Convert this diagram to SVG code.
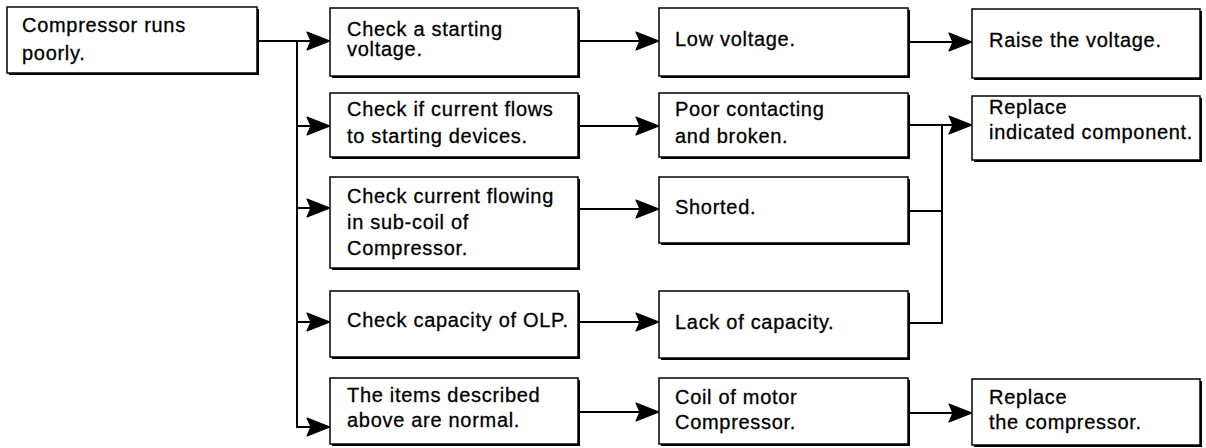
<svg xmlns="http://www.w3.org/2000/svg" width="1206" height="448" viewBox="0 0 1206 448">
<style>
.sh{fill:#000}
.bx{fill:#fff;stroke:#000;stroke-width:1.5}
text{font-family:"Liberation Sans",Arial,sans-serif;font-size:20px;letter-spacing:0.7px;fill:#000;stroke:#000;stroke-width:0.3}
.ln{fill:none;stroke:#000;stroke-width:2}
.ah{fill:#000;stroke:#000;stroke-width:1.2;stroke-linejoin:round}
</style>
<defs>
<path id="ah" class="ah" d="M0,0 L-23,-9 L-19,0 L-23,9 Z"/>
</defs>
<rect width="1206" height="448" fill="#fff"/>

<g id="connectors">
<path class="ln" d="M257,41 H318"/>
<path class="ln" d="M297,41 V427 H318"/>
<path class="ln" d="M297,126 H318 M297,208 H318 M297,322 H318"/>
<path class="ln" d="M578,41 H648 M578,126 H648 M578,209 H648 M578,322 H648 M578,412 H648"/>
<path class="ln" d="M908,42 H961 M908,125 H961 M908,413 H961"/>
<path class="ln" d="M942,125 V323 H908 M908,211 H942"/>
<path class="ah" d="M330,41 l-23,-9 l4,9 l-4,9 z"/>
<path class="ah" d="M330,126 l-23,-9 l4,9 l-4,9 z"/>
<path class="ah" d="M330,208 l-23,-9 l4,9 l-4,9 z"/>
<path class="ah" d="M330,322 l-23,-9 l4,9 l-4,9 z"/>
<path class="ah" d="M330,427 l-23,-9 l4,9 l-4,9 z"/>
<path class="ah" d="M659,41 l-23,-9 l4,9 l-4,9 z"/>
<path class="ah" d="M659,126 l-23,-9 l4,9 l-4,9 z"/>
<path class="ah" d="M659,209 l-23,-9 l4,9 l-4,9 z"/>
<path class="ah" d="M659,322 l-23,-9 l4,9 l-4,9 z"/>
<path class="ah" d="M659,412 l-23,-9 l4,9 l-4,9 z"/>
<path class="ah" d="M972,42 l-23,-9 l4,9 l-4,9 z"/>
<path class="ah" d="M972,125 l-23,-9 l4,9 l-4,9 z"/>
<path class="ah" d="M972,413 l-23,-9 l4,9 l-4,9 z"/>
</g>

<g id="n0">
<rect class="sh" x="9" y="9" width="250" height="66"/>
<rect class="bx" x="7" y="7" width="250" height="66"/>
<text x="22" y="32">Compressor runs</text>
<text x="22" y="60">poorly.</text>
</g>

<g id="n1">
<rect class="sh" x="332" y="10" width="248" height="68"/>
<rect class="bx" x="330" y="8" width="248" height="68"/>
<text x="347" y="36">Check a starting</text>
<text x="347" y="56">voltage.</text>
</g>
<g id="n2">
<rect class="sh" x="332" y="95" width="248" height="64"/>
<rect class="bx" x="330" y="93" width="248" height="64"/>
<text x="347" y="116">Check if current flows</text>
<text x="347" y="143">to starting devices.</text>
</g>
<g id="n3">
<rect class="sh" x="332" y="179" width="248" height="91"/>
<rect class="bx" x="330" y="177" width="248" height="91"/>
<text x="347" y="203">Check current flowing</text>
<text x="347" y="229">in sub-coil of</text>
<text x="347" y="255">Compressor.</text>
</g>
<g id="n4">
<rect class="sh" x="332" y="293" width="248" height="66"/>
<rect class="bx" x="330" y="291" width="248" height="66"/>
<text x="347" y="327">Check capacity of OLP.</text>
</g>
<g id="n5">
<rect class="sh" x="332" y="380" width="248" height="66"/>
<rect class="bx" x="330" y="378" width="248" height="66"/>
<text x="347" y="402">The items described</text>
<text x="347" y="427">above are normal.</text>
</g>

<g id="m1">
<rect class="sh" x="661" y="10" width="249" height="68"/>
<rect class="bx" x="659" y="8" width="249" height="68"/>
<text x="675" y="46">Low voltage.</text>
</g>
<g id="m2">
<rect class="sh" x="661" y="95" width="249" height="64"/>
<rect class="bx" x="659" y="93" width="249" height="64"/>
<text x="675" y="116">Poor contacting</text>
<text x="675" y="143">and broken.</text>
</g>
<g id="m3">
<rect class="sh" x="661" y="179" width="249" height="66"/>
<rect class="bx" x="659" y="177" width="249" height="66"/>
<text x="675" y="214">Shorted.</text>
</g>
<g id="m4">
<rect class="sh" x="661" y="293" width="249" height="67"/>
<rect class="bx" x="659" y="291" width="249" height="67"/>
<text x="675" y="329">Lack of capacity.</text>
</g>
<g id="m5">
<rect class="sh" x="661" y="380" width="249" height="66"/>
<rect class="bx" x="659" y="378" width="249" height="66"/>
<text x="675" y="404">Coil of motor</text>
<text x="675" y="429">Compressor.</text>
</g>

<g id="r1">
<rect class="sh" x="974" y="11" width="228" height="69"/>
<rect class="bx" x="972" y="9" width="228" height="69"/>
<text x="989" y="47">Raise the voltage.</text>
</g>
<g id="r2">
<rect class="sh" x="974" y="98" width="228" height="64"/>
<rect class="bx" x="972" y="96" width="228" height="64"/>
<text x="989" y="114">Replace</text>
<text x="989" y="139">indicated component.</text>
</g>
<g id="r5">
<rect class="sh" x="974" y="381" width="228" height="66"/>
<rect class="bx" x="972" y="379" width="228" height="66"/>
<text x="989" y="404">Replace</text>
<text x="989" y="429">the compressor.</text>
</g>
</svg>
